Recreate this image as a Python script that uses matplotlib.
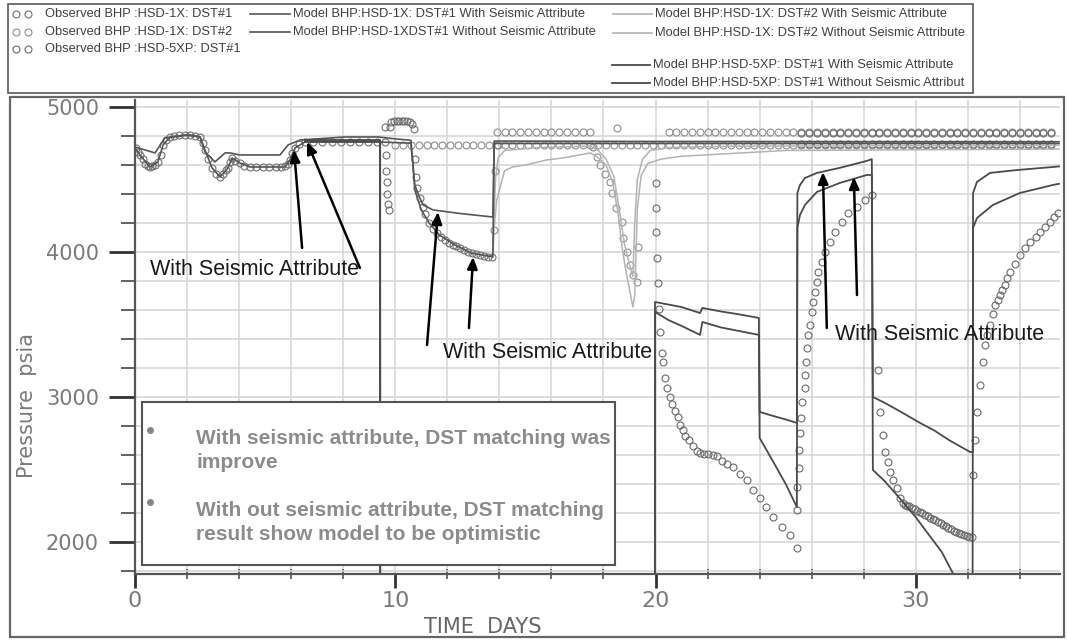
import matplotlib
matplotlib.use('Agg')
import matplotlib.pyplot as plt
from matplotlib.lines import Line2D
from matplotlib.patches import Rectangle
from matplotlib.ticker import FixedLocator, MultipleLocator

plt.rcParams['font.family'] = ['Liberation Sans', 'DejaVu Sans']

# ---------------- data (time in days, pressure in psia) ----------------
# Observed BHP HSD-1X DST#1
obs1_day = [0.04, 0.12, 0.19, 0.30, 0.40, 0.50, 0.58, 0.67, 0.75, 0.88,
            0.98, 1.08, 1.20, 1.34, 1.50, 1.70, 1.92, 2.10, 2.30, 2.50,
            2.60, 2.69, 2.80, 2.96, 3.10, 3.27, 3.40, 3.50, 3.57, 3.65,
            3.73, 3.85, 4.03, 4.20, 4.42, 4.65, 4.90, 5.15, 5.40, 5.60,
            5.76, 5.88, 5.95, 6.05, 6.15, 6.30, 6.53, 6.85, 7.20, 7.55,
            7.90, 8.25, 8.60, 8.95, 9.30,
            9.60, 9.62, 9.64, 9.66, 9.68, 9.70, 9.72, 9.74,
            9.78, 9.85, 9.95, 10.05, 10.15, 10.25, 10.35, 10.45, 10.55, 10.65, 10.72,
            10.75, 10.80, 10.85, 10.95, 11.05, 11.15, 11.30, 11.45, 11.60, 11.75,
            11.90, 12.05, 12.20, 12.35, 12.50, 12.65, 12.80, 12.95, 13.10, 13.25,
            13.40, 13.55, 13.70]
obs1_psi = [4717, 4690, 4669, 4640, 4610, 4592, 4586, 4590, 4600, 4621,
            4670, 4738, 4775, 4793, 4800, 4805, 4807, 4805, 4800, 4793,
            4750, 4703, 4640, 4579, 4540, 4517, 4540, 4565, 4579, 4620,
            4648, 4630, 4614, 4595, 4586, 4586, 4586, 4586, 4586, 4588,
            4590, 4610, 4634, 4680, 4717, 4745, 4759, 4759, 4760, 4760,
            4760, 4760, 4760, 4760, 4760,
            4860, 4760, 4670, 4560, 4480, 4400, 4330, 4290,
            4860, 4895, 4905, 4905, 4905, 4905, 4905, 4902, 4895, 4880, 4850,
            4640, 4520, 4440, 4370, 4310, 4260, 4200, 4160, 4130, 4105,
            4085, 4065, 4050, 4040, 4025, 4012, 4000, 3992, 3985, 3978,
            3972, 3968, 3963]

# gauge sample times of the flat stabilised records
row_day = [10.0, 10.3, 10.6, 10.9, 11.2, 11.5, 11.8, 12.1, 12.4, 12.7,
           13.0, 13.3, 13.6, 13.9, 14.2, 14.5, 14.8, 15.1, 15.4, 15.7,
           16.0, 16.3, 16.6, 16.9, 17.2, 17.5, 17.8, 18.1, 18.4, 18.7,
           19.0, 19.3, 19.6, 19.9, 20.2, 20.5, 20.8, 21.1, 21.4, 21.7,
           22.0, 22.3, 22.6, 22.9, 23.2, 23.5, 23.8, 24.1, 24.4, 24.7,
           25.0, 25.3, 25.6, 25.9, 26.2, 26.5, 26.8, 27.1, 27.4, 27.7,
           28.0, 28.3, 28.6, 28.9, 29.2, 29.5, 29.8, 30.1, 30.4, 30.7,
           31.0, 31.3, 31.6, 31.9, 32.2, 32.5, 32.8, 33.1, 33.4, 33.7,
           34.0, 34.3, 34.6, 34.9, 35.2]
row_low_psi = 4740
row_high_psi = 4830

# Observed BHP HSD-1X DST#2 (transient part)
obs2_day = [13.80, 13.85, 13.95, 17.60, 17.75, 17.86, 18.05, 18.25, 18.33, 18.50,
            18.71, 18.75, 18.90, 19.02, 19.13, 19.29, 19.33, 18.52]
obs2_psi = [4150, 4560, 4740, 4724, 4655, 4600, 4540, 4483, 4407, 4300,
            4207, 4096, 4000, 3910, 3841, 3793, 4034, 4855]

# Observed BHP HSD-5XP DST#1
obs3_day = [20.00, 20.00, 20.02, 20.05, 20.09, 20.13, 20.17, 20.25, 20.30, 20.36,
            20.45, 20.55, 20.65, 20.75, 20.85, 20.95, 21.05, 21.15, 21.30, 21.45,
            21.60, 21.70, 21.85, 22.00, 22.20, 22.36, 22.55, 22.75, 22.97, 23.25,
            23.51, 23.75, 24.01, 24.25, 24.51, 24.85, 25.16, 25.43,
            25.43, 25.45, 25.50, 25.53, 25.55, 25.58, 25.62, 25.74, 25.76, 25.79,
            25.82, 25.85, 25.93, 26.01, 26.05, 26.12, 26.20, 26.24, 26.39, 26.51,
            26.70, 26.89, 27.16, 27.39, 27.74, 28.04, 28.31,
            28.54, 28.62, 28.74, 28.81, 28.93, 29.01, 29.12, 29.27, 29.39, 29.50,
            29.58, 29.66, 29.75, 29.85, 29.95, 30.05, 30.15, 30.25, 30.35, 30.45,
            30.55, 30.65, 30.75, 30.85, 30.95, 31.05, 31.15, 31.25, 31.35, 31.45,
            31.55, 31.65, 31.75, 31.85, 31.95, 32.05, 32.15,
            32.19, 32.27, 32.35, 32.46, 32.58, 32.65, 32.75, 32.85, 32.95, 33.04,
            33.14, 33.23, 33.33, 33.42, 33.52, 33.61, 33.80, 34.00, 34.20, 34.38,
            34.60, 34.77, 34.95, 35.15, 35.30, 35.46]
obs3_psi = [4476, 4300, 4138, 3960, 3786, 3610, 3448, 3300, 3241, 3131,
            3060, 3000, 2950, 2900, 2860, 2810, 2770, 2730, 2700, 2660,
            2630, 2614, 2610, 2605, 2600, 2590, 2560, 2540, 2517, 2470,
            2428, 2360, 2303, 2240, 2172, 2100, 2048, 1959,
            2221, 2379, 2510, 2634, 2752, 2855, 2966, 3062, 3152, 3241,
            3338, 3428, 3497, 3586, 3655, 3724, 3793, 3862, 3931, 4000,
            4069, 4138, 4207, 4269, 4310, 4359, 4393,
            3186, 2897, 2738, 2621, 2552, 2483, 2428, 2372, 2300, 2269,
            2255, 2250, 2245, 2235, 2225, 2215, 2207, 2198, 2188, 2178,
            2168, 2158, 2148, 2138, 2128, 2118, 2108, 2098, 2088, 2079,
            2070, 2062, 2055, 2048, 2042, 2036, 2032,
            2462, 2703, 2897, 3083, 3241, 3359, 3430, 3497, 3570, 3634,
            3670, 3703, 3740, 3772, 3820, 3862, 3920, 3979, 4025, 4069,
            4105, 4138, 4170, 4207, 4240, 4269]

# Model BHP HSD-1X DST#1
m1_with_day = [0.00, 0.77, 1.15, 2.11, 2.50, 2.69, 3.07, 3.46, 3.65, 4.03,
               5.57, 5.88, 6.34, 8.07, 9.34, 10.00, 10.60, 10.68, 10.75, 10.90,
               11.07, 11.45, 12.50, 13.75, 13.80, 20.00, 35.50]
m1_with_psi = [4724, 4683, 4786, 4807, 4793, 4690, 4621, 4683, 4683, 4669,
               4669, 4738, 4772, 4793, 4793, 4780, 4770, 4600, 4462, 4390,
               4324, 4290, 4265, 4241, 4765, 4762, 4760]
m1_wo_day = [0.00, 0.19, 0.58, 0.88, 1.08, 1.34, 1.92, 2.50, 2.69, 2.96,
             3.27, 3.57, 3.73, 4.03, 4.42, 5.76, 5.95, 6.15, 6.53, 9.34,
             10.60, 10.68, 10.75, 11.00, 11.30, 11.70, 12.30, 12.90, 13.75, 13.80,
             35.50]
m1_wo_psi = [4717, 4669, 4586, 4621, 4738, 4793, 4807, 4793, 4703, 4579,
             4517, 4579, 4648, 4614, 4586, 4586, 4634, 4717, 4759, 4759,
             4750, 4600, 4428, 4290, 4200, 4117, 4048, 3993, 3966, 4748,
             4748]

# Model BHP HSD-1X DST#2
m2_with_day = [13.75, 13.80, 13.85, 13.95, 14.20, 15.50, 17.50, 17.80, 18.10, 18.40,
               18.60, 18.80, 18.95, 19.05, 19.13, 19.20, 19.30, 19.50, 19.80, 20.50,
               23.00, 35.50]
m2_with_psi = [4241, 4241, 4500, 4650, 4700, 4720, 4730, 4700, 4640, 4520,
               4300, 4060, 3950, 3880, 3830, 4200, 4500, 4640, 4700, 4720,
               4730, 4735]
m2_wo_day = [13.75, 13.80, 13.90, 14.20, 14.50, 15.00, 15.80, 16.50, 17.50, 17.80,
             18.10, 18.35, 18.55, 18.70, 18.85, 19.00, 19.13, 19.20, 19.30, 19.45,
             19.70, 20.20, 21.00, 23.00, 25.00, 35.50]
m2_wo_psi = [3966, 4166, 4360, 4560, 4586, 4600, 4634, 4650, 4683, 4650,
             4600, 4480, 4280, 4050, 3880, 3740, 3621, 3700, 4300, 4530,
             4610, 4640, 4660, 4680, 4700, 4710]

# Model BHP HSD-5XP DST#1 (0 psia before the well is opened)
m5_with_day = [6.53, 9.41, 9.42, 19.97, 19.98, 21.00, 21.71, 21.80, 22.50, 23.20,
               23.97, 24.00, 24.50, 25.00, 25.43, 25.45, 25.55, 25.74, 26.20, 27.08,
               28.12, 28.31, 28.35, 28.80, 29.40, 30.16, 30.70, 31.30, 32.08, 32.19,
               32.20, 32.35, 32.85, 33.88, 35.27, 35.50]
m5_with_psi = [4772, 4772, 0, 0, 3655, 3620, 3579, 3614, 3590, 3570,
               3545, 2897, 2870, 2845, 2821, 4407, 4462, 4510, 4545, 4580,
               4628, 4640, 3000, 2960, 2900, 2821, 2770, 2700, 2621, 2621,
               4407, 4483, 4545, 4565, 4586, 4590]
m5_wo_day = [6.53, 9.42, 9.43, 19.97, 19.98, 20.50, 21.00, 21.71, 21.80, 22.50,
             23.20, 23.97, 24.00, 24.50, 25.00, 25.43, 25.45, 25.55, 25.74, 26.20,
             27.08, 28.12, 28.31, 28.35, 28.80, 29.39, 30.00, 30.50, 31.00, 31.42,
             32.00, 32.18, 32.20, 32.35, 32.96, 34.00, 35.27, 35.50]
m5_wo_psi = [4760, 4760, 0, 0, 3586, 3530, 3490, 3428, 3517, 3480,
             3455, 3428, 2717, 2560, 2400, 2241, 4166, 4255, 4324, 4414,
             4476, 4531, 4531, 2497, 2420, 2300, 2170, 2050, 1930, 1786,
             1550, 1480, 4166, 4234, 4324, 4407, 4462, 4470]

legend_obs = ['Observed BHP :HSD-1X: DST#1', 'Observed BHP :HSD-1X: DST#2',
              'Observed BHP :HSD-5XP: DST#1']
legend_m1 = ['Model BHP:HSD-1X: DST#1 With Seismic Attribute',
             'Model BHP:HSD-1XDST#1 Without Seismic Attribute']
legend_m2 = ['Model BHP:HSD-1X: DST#2 With Seismic Attribute',
             'Model BHP:HSD-1X: DST#2 Without Seismic Attribute']
legend_m5 = ['Model BHP:HSD-5XP: DST#1 With Seismic Attribute',
             'Model BHP:HSD-5XP: DST#1 Without Seismic Attribut']

note_lines = ['With seismic attribute, DST matching was', 'improve',
              'With out seismic attribute, DST matching',
              'result show model to be optimistic']

# ---------------- figure ----------------
W, H = 1068, 641
fig = plt.figure(figsize=(W / 100, H / 100), dpi=100)


def fx(px):
    return px / W


def fy(py):
    return 1 - py / H


ax = fig.add_axes([fx(135), fy(574), fx(1060) - fx(135), fy(100) - fy(574)])
ax.set_xlim(0, 35.54)
ax.set_ylim(1779, 5048)

c_obs1, c_obs2, c_obs3 = '#707070', '#8e8e8e', '#6a6a6a'
c_m1, c_m2, c_m5 = '#555555', '#b3b3b3', '#4a4a4a'
mk = dict(marker='o', ms=5, mfc='none', mew=0.8, ls='none')

# rows of stabilised observed pressure
hi_day = [d for d in row_day if 13.9 <= d <= 17.5 or d >= 20.5]
late_day = [d for d in row_day if d >= 25.6]
ax.plot(row_day, [row_low_psi] * len(row_day), mec=c_obs2, **mk)
ax.plot(hi_day, [row_high_psi] * len(hi_day), mec=c_obs2, **mk)
ax.plot(late_day, [row_high_psi - 8] * len(late_day), mec=c_obs3, **mk)
ax.plot(late_day, [row_low_psi + 5] * len(late_day), mec=c_obs3, **mk)

ax.plot(obs1_day, obs1_psi, mec=c_obs1, **mk)
ax.plot(obs2_day, obs2_psi, mec=c_obs2, **mk)
ax.plot(obs3_day, obs3_psi, mec=c_obs3, **mk)

ax.plot(m2_with_day, m2_with_psi, color=c_m2, lw=1.1)
ax.plot(m2_wo_day, m2_wo_psi, color=c_m2, lw=1.1)
ax.plot(m1_with_day, m1_with_psi, color=c_m1, lw=1.2)
ax.plot(m1_wo_day, m1_wo_psi, color=c_m1, lw=1.2)
ax.plot(m5_with_day, m5_with_psi, color=c_m5, lw=1.3)
ax.plot(m5_wo_day, m5_wo_psi, color=c_m5, lw=1.3)

# axes styling
ax.xaxis.set_major_locator(FixedLocator([0, 10, 20, 30]))
ax.xaxis.set_minor_locator(MultipleLocator(2))
ax.yaxis.set_major_locator(FixedLocator([2000, 3000, 4000, 5000]))
ax.yaxis.set_minor_locator(MultipleLocator(200))
ax.grid(which='both', color='#d5d5d5', lw=1.1)
ax.set_axisbelow(True)
for s in ['top', 'right']:
    ax.spines[s].set_visible(False)
for s in ['left', 'bottom']:
    ax.spines[s].set_color('#555555')
    ax.spines[s].set_linewidth(1.6)
ax.tick_params(axis='y', which='major', direction='out', length=19, width=2,
               color='#333333', labelsize=15, labelcolor='#7a7a7a', pad=7)
ax.tick_params(axis='y', which='minor', direction='out', length=10, width=1.3,
               color='#555555')
ax.tick_params(axis='x', which='major', direction='out', length=10, width=2,
               color='#333333', labelsize=16, labelcolor='#7a7a7a', pad=2)
ax.tick_params(axis='x', which='minor', direction='inout', length=7, width=1.2,
               color='#555555')
for lab in ax.get_xticklabels() + ax.get_yticklabels():
    lab.set_family('DejaVu Sans')

fig.text(fx(27), fy(406), 'Pressure  psia', rotation=90, ha='center', va='center',
         fontsize=15, color='#7a7a7a', family='DejaVu Sans')
fig.text(fx(483), fy(627), 'TIME  DAYS', ha='center', va='center',
         fontsize=15, color='#666666', family='DejaVu Sans')

# annotations
arrow = dict(arrowstyle='-|>,head_length=0.7,head_width=0.3', color='black',
             lw=1.8, shrinkA=0, shrinkB=0)
arrows = [((6.42, 4028), (6.11, 4703)), ((8.64, 3890), (6.61, 4759)),
          ((11.22, 3359), (11.64, 4276)), ((12.83, 3476), (12.99, 3966)),
          ((26.58, 3476), (26.43, 4552)), ((27.74, 3703), (27.62, 4517))]
for tail, tip in arrows:
    ax.annotate('', xy=tip, xytext=tail, arrowprops=arrow, zorder=6)
for x0, y0 in [(0.58, 3876), (11.83, 3310), (26.89, 3428)]:
    ax.text(x0, y0, 'With Seismic Attribute', fontsize=15.5, color='#1a1a1a',
            ha='left', va='center', zorder=7)

# note box
fig.add_artist(Rectangle((fx(142), fy(565)), fx(615) - fx(142), fy(402) - fy(565),
                         transform=fig.transFigure, fc='white', ec='#555555',
                         lw=1.5, zorder=5))
for by in [430, 502]:
    fig.add_artist(Line2D([fx(150)], [fy(by)], transform=fig.transFigure,
                          marker='o', ms=4, color='#888888', zorder=6))
for ty, line in zip([439, 463, 510, 535], note_lines):
    fig.text(fx(196), fy(ty), line, ha='left', va='center', fontsize=15,
             fontweight='bold', color='#8c8c8c', zorder=6)

# frames
fig.add_artist(Rectangle((fx(10), fy(637)), fx(1064) - fx(10), fy(97) - fy(637),
                         transform=fig.transFigure, fill=False, ec='#666666', lw=1.6))
fig.add_artist(Rectangle((fx(8), fy(93)), fx(973) - fx(8), fy(4) - fy(93),
                         transform=fig.transFigure, fill=False, ec='#666666', lw=1.3))

# legend
lf = dict(fontsize=9.3, color='#404040', va='center', ha='left')
for lab, y, c in zip(legend_obs, [14, 32, 49], [c_obs1, c_obs2, c_obs3]):
    fig.add_artist(Line2D([fx(16), fx(28)], [fy(y), fy(y)], transform=fig.transFigure,
                          color=c, **mk))
    fig.text(fx(45), fy(y), lab, **lf)
for lab, y in zip(legend_m1, [14, 32]):
    fig.add_artist(Line2D([fx(250), fx(290)], [fy(y), fy(y)], transform=fig.transFigure,
                          color=c_m1, lw=1.2))
    fig.text(fx(293), fy(y), lab, **lf)
for lab, y in zip(legend_m2, [14, 33]):
    fig.add_artist(Line2D([fx(613), fx(652)], [fy(y), fy(y)], transform=fig.transFigure,
                          color=c_m2, lw=1.2))
    fig.text(fx(655), fy(y), lab, **lf)
for lab, y in zip(legend_m5, [65, 83]):
    fig.add_artist(Line2D([fx(612), fx(650)], [fy(y), fy(y)], transform=fig.transFigure,
                          color=c_m5, lw=1.3))
    fig.text(fx(653), fy(y), lab, **lf)

fig.savefig('out.png', dpi=100)
